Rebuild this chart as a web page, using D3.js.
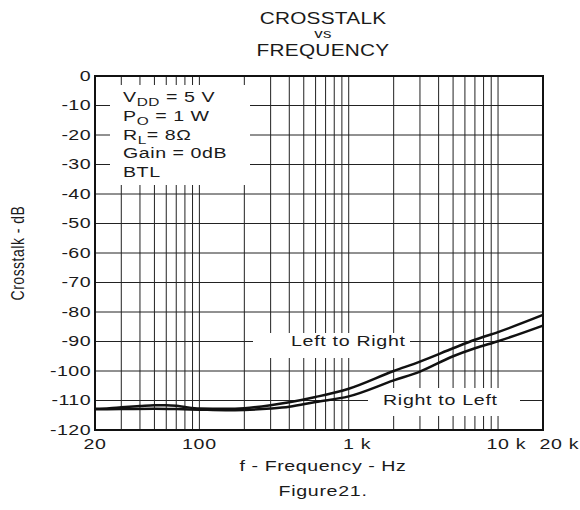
<!DOCTYPE html>
<html>
<head>
<meta charset="utf-8">
<script src="https://cdn.jsdelivr.net/npm/d3@7"></script>
<style>
  html, body { margin: 0; padding: 0; background: #fff; }
  svg { display: block; }
  text { font-family: "Liberation Sans", Arial, sans-serif; fill: #1a1a1a; }
</style>
</head>
<body>
<svg id="chart" width="580" height="510"></svg>
<script>
// ---- data ----
const freqAxisTicks = [20, 100, 1000, 10000, 20000];
const freqAxisNumbers = ["20", "100", "1", "10", "20"];
const freqAxisSuffixes = ["", "", " k", " k", " k"];
const dbAxisTicks = [0, -10, -20, -30, -40, -50, -60, -70, -80, -90, -100, -110, -120];
const gridFreqs = [30, 40, 50, 60, 70, 80, 90,
                   100, 200, 300, 400, 500, 600, 700, 800, 900,
                   1000, 2000, 3000, 4000, 5000, 6000, 7000, 8000, 9000, 10000];

const leftToRightFreq = [20, 25, 30, 40, 50, 60, 70, 80, 100, 150, 200, 300, 400, 600,
                         1000, 2000, 3000, 5000, 7000, 10000, 20000];
const leftToRightDb   = [-112.8, -112.6, -112.3, -111.9, -111.6, -111.6, -111.8, -112.2, -112.7, -112.8, -112.6, -111.6, -110.6, -108.8,
                         -106.0, -100.0, -96.8, -92.3, -89.4, -86.8, -81.0];

const rightToLeftFreq = [20, 30, 50, 70, 100, 150, 200, 300, 400, 600,
                         1000, 2000, 3000, 5000, 7000, 10000, 20000];
const rightToLeftDb   = [-113.0, -112.9, -112.8, -112.9, -113.1, -113.3, -113.2, -112.7, -112.1, -110.5,
                         -108.6, -103.2, -100.2, -95.0, -92.3, -89.9, -84.6];

const conditionLines = [
  ["V", "DD", " = 5 V"],
  ["P", "O", " = 1 W"],
  ["R", "L", "= 8\u03A9"],
  ["Gain = 0dB", "", ""],
  ["BTL", "", ""]
];
const titleLines = ["CROSSTALK", "vs", "FREQUENCY"];
const xTitle = "f - Frequency - Hz";
const yTitle = "Crosstalk - dB";
const caption = "Figure21.";
const curveLabels = ["Left to Right", "Right to Left"];

// ---- layout ----
const P = { left: 95, right: 543, top: 76, bottom: 430 };
const SX = 1.4;          // wide lettering
const svg = d3.select("#chart");

const x = d3.scaleLog().domain([20, 20000]).range([P.left, P.right]);
const y = d3.scaleLinear().domain([0, -120]).range([P.top, P.bottom]);

function wideText(parent, px, py, str, o = {}) {
  const g = parent.append("g")
    .attr("transform", `translate(${px},${py}) scale(${o.sx || SX},1)`);
  return g.append("text")
    .attr("font-size", o.size || 14)
    .attr("letter-spacing", o.ls == null ? 0.5 : o.ls)
    .attr("text-anchor", o.anchor || "start")
    .attr("dominant-baseline", o.baseline || "auto")
    .text(str);
}

// grid
const grid = svg.append("g").attr("stroke", "#222").attr("stroke-width", 1);
grid.selectAll("line.v").data(gridFreqs).join("line")
  .attr("x1", d => x(d)).attr("x2", d => x(d))
  .attr("y1", P.top).attr("y2", P.bottom);
grid.selectAll("line.h").data(dbAxisTicks.slice(1, -1)).join("line")
  .attr("x1", P.left).attr("x2", P.right)
  .attr("y1", d => y(d)).attr("y2", d => y(d));

// white panels behind the annotations
const panels = svg.append("g").attr("fill", "#fff");
panels.append("rect").attr("x", 110).attr("y", 85).attr("width", 140).attr("height", 100);
panels.append("rect").attr("x", 253).attr("y", 333).attr("width", 157).attr("height", 25);
panels.append("rect").attr("x", 368).attr("y", 388).attr("width", 152).attr("height", 28);

// curves
const line = d3.line().x(d => x(d[0])).y(d => y(d[1])).curve(d3.curveMonotoneX);
const series = [
  d3.zip(leftToRightFreq, leftToRightDb),
  d3.zip(rightToLeftFreq, rightToLeftDb)
];
svg.append("g").selectAll("path").data(series).join("path")
  .attr("d", line)
  .attr("fill", "none").attr("stroke", "#111").attr("stroke-width", 2.5)
  .attr("stroke-linejoin", "round");

// frame
svg.append("rect")
  .attr("x", P.left).attr("y", P.top)
  .attr("width", P.right - P.left).attr("height", P.bottom - P.top)
  .attr("fill", "none").attr("stroke", "#111").attr("stroke-width", 2);

// y tick labels
dbAxisTicks.forEach(v => {
  wideText(svg, P.left - 4, y(v), String(v), { anchor: "end", baseline: "central", ls: 0.3 });
});

// x tick labels: number centred on the gridline, unit suffix trailing;
// the label at the right edge starts at the frame
freqAxisTicks.forEach((v, i) => {
  const last = i === freqAxisTicks.length - 1;
  const t = wideText(svg, x(v), 449, "", { ls: 0.5 });
  const num = t.append("tspan").text(freqAxisNumbers[i]);
  t.append("tspan").text(freqAxisSuffixes[i]);
  t.attr("x", last ? -2.5 : -num.node().getComputedTextLength() / 2);
});

// axis titles
const cx = 323;
wideText(svg, cx, 471, xTitle, { anchor: "middle", ls: 0.4 });
svg.append("text")
  .attr("transform", `translate(24,${(P.top + P.bottom) / 2}) scale(1.25,1) rotate(-90)`)
  .attr("text-anchor", "middle").attr("font-size", 14).attr("letter-spacing", 0.5)
  .text(yTitle);

// title
wideText(svg, cx, 24, titleLines[0], { anchor: "middle", size: 16, sx: 1.3, ls: 0.2 });
wideText(svg, cx, 38, titleLines[1], { anchor: "middle", size: 13, sx: 1.3, ls: 0.2 });
wideText(svg, cx, 56, titleLines[2], { anchor: "middle", size: 16, sx: 1.3, ls: 0.2 });

// caption
wideText(svg, cx, 496, caption, { anchor: "middle", ls: 0.5 });

// operating conditions
const condY = [102, 121, 140, 158, 177];
conditionLines.forEach((c, i) => {
  const t = wideText(svg, 123, condY[i], "", { ls: 0.4 });
  t.append("tspan").text(c[0]);
  if (c[1]) {
    t.append("tspan").attr("font-size", 11).attr("dy", 4).text(c[1]);
    t.append("tspan").attr("dy", -4).text(c[2]);
  }
});

// curve labels
wideText(svg, 291, y(-90), curveLabels[0], { baseline: "central", ls: 0.5 });
wideText(svg, 383, y(-110), curveLabels[1], { baseline: "central", ls: 0.5 });
</script>
</body>
</html>
